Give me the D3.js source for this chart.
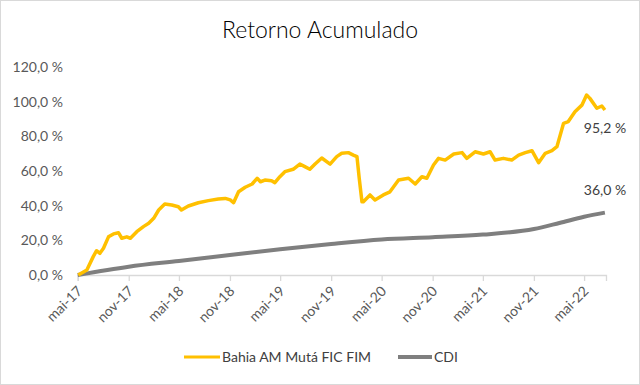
<!DOCTYPE html>
<html>
<head>
<meta charset="utf-8">
<script src="https://cdn.jsdelivr.net/npm/d3@7"></script>
<style>
  body { margin: 0; background: #fff; }
  svg { font-family: Lato, "Open Sans", sans-serif; }
</style>
</head>
<body>
<script>
// fund: Bahia AM Muta FIC FIM
var fundDates = ["2017-05-03","2017-06-03","2017-06-26","2017-07-08","2017-07-20","2017-08-02","2017-08-20",
  "2017-09-07","2017-09-25","2017-10-07","2017-10-25","2017-11-07","2017-11-30","2017-12-24","2018-01-12",
  "2018-01-30","2018-02-17","2018-03-11","2018-04-05","2018-04-29","2018-05-10","2018-06-04","2018-07-10",
  "2018-08-15","2018-09-20","2018-10-15","2018-11-02","2018-11-14","2018-12-02","2018-12-26","2019-01-20",
  "2019-02-07","2019-02-19","2019-03-07","2019-03-31","2019-04-12","2019-04-30","2019-05-18","2019-06-17",
  "2019-07-11","2019-07-29","2019-08-16","2019-09-04","2019-09-28","2019-10-28","2019-11-21","2019-12-09",
  "2020-01-02","2020-01-20","2020-02-02","2020-02-10","2020-02-20","2020-02-25","2020-03-20","2020-04-07",
  "2020-05-07","2020-05-31","2020-07-01","2020-08-06","2020-08-30","2020-09-23","2020-10-11","2020-11-04",
  "2020-11-22","2020-12-16","2021-01-16","2021-02-15","2021-03-04","2021-04-03","2021-05-03","2021-05-27",
  "2021-06-14","2021-07-14","2021-08-13","2021-09-07","2021-10-01","2021-10-25","2021-11-18","2021-12-12",
  "2022-01-05","2022-01-23","2022-02-16","2022-03-05","2022-03-29","2022-04-23","2022-05-10","2022-05-22",
  "2022-06-16","2022-07-04","2022-07-15"];
var fundValues = [0, 2.9, 10.6, 14, 12.5, 15.4, 22,
  23.7, 24.4, 21.2, 22, 21.2, 25, 27.9, 29.8,
  32.7, 37.5, 41, 40.4, 39.4, 37.5, 39.8, 41.7,
  42.9, 43.8, 44.2, 43.3, 41.7, 48, 50.6, 52.5,
  55.8, 53.8, 54.8, 54.4, 53.3, 56.7, 59.6, 61,
  64, 62.5, 61, 64, 67.5, 64, 68.3, 70.2,
  70.6, 69.2, 68.3, 56, 42.3, 42.3, 46.2, 43.3,
  46.2, 48, 54.8, 55.8, 52.5, 56.7, 55.8, 63.5,
  67.3, 66.3, 69.8, 70.6, 67.3, 71.1, 69.8, 71.1,
  66.3, 67.3, 66.3, 69.2, 70.6, 71.7, 64.8, 70.2,
  71.7, 74, 87.5, 88.5, 94.2, 98, 103.8, 101.9,
  96.2, 97.5, 95.2];

// CDI
var cdiDates = ["2017-05-01","2017-11-01","2018-05-01","2018-11-01","2019-05-01","2019-11-01","2020-05-01",
  "2020-11-01","2021-05-01","2021-11-01","2022-02-01","2022-05-01","2022-07-15"];
var cdiValues = [0, 4.8, 8.1, 11.5, 14.8, 17.9, 20.5, 21.8, 23.3, 26.5, 30.0, 33.6, 36.0];

var seriesNames = ["Bahia AM Mutá FIC FIM", "CDI"];
var seriesColors = ["#FFC000", "#7F7F7F"];
var yTicks = [0, 20, 40, 60, 80, 100, 120];
var xTicks = ["2017-05-01","2017-11-01","2018-05-01","2018-11-01","2019-05-01","2019-11-01",
  "2020-05-01","2020-11-01","2021-05-01","2021-11-01","2022-05-01"];
var monthNames = ["jan","fev","mar","abr","mai","jun","jul","ago","set","out","nov","dez"];

var width = 640, height = 385;
var parse = d3.timeParse("%Y-%m-%d");
var fmtPct = function (v) { return d3.format(".1f")(v).replace(".", ",") + " %"; };

var svg = d3.select("body").append("svg")
  .attr("width", width)
  .attr("height", height);

svg.append("rect")
  .attr("x", 0.5).attr("y", 0.5)
  .attr("width", width - 1).attr("height", height - 1)
  .attr("fill", "#fff")
  .attr("stroke", "#d9d9d9");

var x = d3.scaleTime()
  .domain([parse("2017-05-01"), parse("2022-07-19")])
  .range([77.7, 606]);

var y = d3.scaleLinear()
  .domain([0, 120])
  .range([275, 67]);

// title
svg.append("text")
  .attr("x", 320).attr("y", 38)
  .attr("text-anchor", "middle")
  .attr("font-size", 23)
  .attr("font-weight", 300)
  .attr("fill", "#000")
  .text("Retorno Acumulado");

// y axis labels
svg.selectAll(".ylab")
  .data(yTicks)
  .enter()
  .append("text")
  .attr("class", "ylab")
  .attr("x", 63)
  .attr("y", function (d) { return y(d) + 5; })
  .attr("text-anchor", "end")
  .attr("font-size", 14)
  .attr("fill", "#595959")
  .text(fmtPct);

// x axis
var xAxis = d3.axisBottom(x)
  .tickValues(xTicks.map(parse))
  .tickSize(6)
  .tickFormat(function (d) { return monthNames[d.getMonth()] + "-" + String(d.getFullYear()).slice(2); });

var gx = svg.append("g")
  .attr("transform", "translate(0,275)")
  .call(xAxis);
gx.select(".domain").attr("stroke", "#d9d9d9").attr("stroke-width", 1.3);
gx.selectAll(".tick line").attr("stroke", "#d9d9d9").attr("stroke-width", 1.3);
gx.selectAll(".tick text")
  .attr("font-family", "Lato, 'Open Sans', sans-serif")
  .attr("font-size", 14)
  .attr("fill", "#595959")
  .attr("text-anchor", "end")
  .attr("dy", null)
  .attr("y", 0)
  .attr("transform", "translate(5,17) rotate(-45)");

var line = d3.line()
  .x(function (d) { return x(d[0]); })
  .y(function (d) { return y(d[1]); });

var cdi = cdiDates.map(function (d, i) { return [parse(d), cdiValues[i]]; });
var fund = fundDates.map(function (d, i) { return [parse(d), fundValues[i]]; });

svg.append("path")
  .datum(cdi)
  .attr("fill", "none")
  .attr("stroke", seriesColors[1])
  .attr("stroke-width", 4)
  .attr("d", line.curve(d3.curveMonotoneX));

svg.append("path")
  .datum(fund)
  .attr("fill", "none")
  .attr("stroke", seriesColors[0])
  .attr("stroke-width", 3.5)
  .attr("stroke-linejoin", "round")
  .attr("d", d3.line()
    .x(function (d) { return x(d[0]); })
    .y(function (d) { return y(d[1]); })(fund));

// end labels
svg.append("text")
  .attr("x", 605).attr("y", 133)
  .attr("text-anchor", "middle")
  .attr("font-size", 14)
  .attr("fill", "#404040")
  .text(fmtPct(fundValues[fundValues.length - 1]));

svg.append("text")
  .attr("x", 605).attr("y", 195)
  .attr("text-anchor", "middle")
  .attr("font-size", 14)
  .attr("fill", "#404040")
  .text(fmtPct(cdiValues[cdiValues.length - 1]));

// legend
var legend = [{ x: 184, w: 36 }, { x: 398, w: 34 }];
legend.forEach(function (l, i) {
  svg.append("line")
    .attr("x1", l.x).attr("x2", l.x + l.w)
    .attr("y1", 357).attr("y2", 357)
    .attr("stroke", seriesColors[i])
    .attr("stroke-width", i == 0 ? 3 : 4);
  svg.append("text")
    .attr("x", l.x + l.w + 2).attr("y", 362)
    .attr("font-size", 14)
    .attr("fill", "#404040")
    .text(seriesNames[i]);
});
</script>
</body>
</html>
